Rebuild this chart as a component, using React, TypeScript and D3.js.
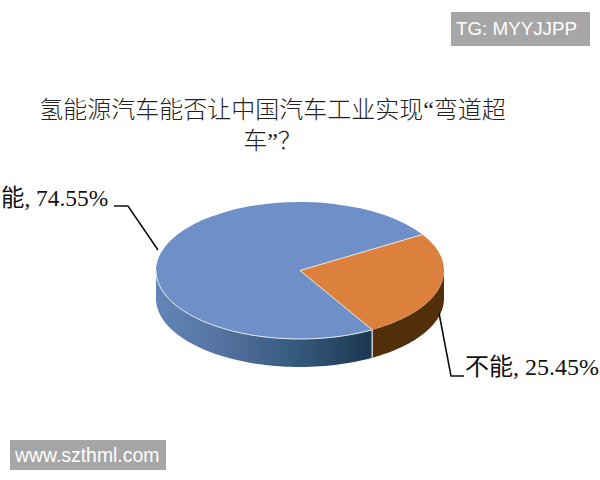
import React from "react";
import * as d3 from "d3";

const categories = ["不能", "能"];
const values = [25.45, 74.55];
const labels = ["不能, 25.45%", "能, 74.55%"];
const titleLines = ["氢能源汽车能否让中国汽车工业实现“弯道超", "车”？"];
const topColors = ["#dc803e", "#6e8fc8"];
const sideColors = ["#52300c", "url(#blueSide)"];
const watermarks = ["TG: MYYJJPP", "www.szthml.com"];

const cx = 300, cy = 270.5, rx = 144, ry = 68.5, depth = 28;
const startDeg = 58.3;
const serif = "'Liberation Serif','Noto Sans CJK SC',serif";
const sans = "'Liberation Sans',Arial,sans-serif";

export default function App() {
  const pie = d3.pie<number>().sort(null)
    .startAngle((startDeg * Math.PI) / 180)
    .endAngle((startDeg * Math.PI) / 180 + 2 * Math.PI);
  const arcs = pie(values);
  const arc = d3.arc<d3.PieArcDatum<number>>().innerRadius(0).outerRadius(rx);

  const px = (a: number) => cx + rx * Math.sin(a);
  const py = (a: number) => cy - ry * Math.cos(a);

  const sides = arcs.map((d, i) => {
    // front-facing portion of the rim only (between 90deg and 270deg)
    const a0 = Math.max(d.startAngle, Math.PI / 2);
    const a1 = Math.min(d.endAngle, (3 * Math.PI) / 2);
    const angles = d3.range(0, 61).map((k) => a0 + ((a1 - a0) * k) / 60);
    const area = d3.area<number>().x(px).y0(py).y1((a) => py(a) + depth);
    return { path: area(angles)!, fill: sideColors[i], a0, a1 };
  });

  const split = arcs[0].endAngle;
  const rimBlue = d3.line<number>().x(px).y(py)(
    d3.range(0, 61).map((k) => split + (((3 * Math.PI) / 2 - split) * k) / 60)
  );

  return (
    <svg width={600} height={480} style={{ position: "absolute", left: 0, top: 0, background: "#fff" }}>
      <defs>
        <linearGradient id="blueSide" gradientUnits="userSpaceOnUse" x1={156} x2={372} y1={0} y2={0}>
          <stop offset="0" stopColor="#6485b8" />
          <stop offset="0.35" stopColor="#506f9c" />
          <stop offset="0.65" stopColor="#35597c" />
          <stop offset="1" stopColor="#1b3850" />
        </linearGradient>
      </defs>

      {titleLines.map((t, i) => (
        <text key={t} x={272.5} y={118 + i * 31} textAnchor="middle" fontFamily={serif} fontSize={24} fontWeight={300} fill="#222">
          {t}
        </text>
      ))}

      {sides.map((s, i) => (
        <path key={categories[i]} d={s.path} fill={s.fill} />
      ))}
      <line x1={px(split)} y1={py(split)} x2={px(split)} y2={py(split) + depth} stroke="#e8eef4" strokeWidth={1.2} />

      <g transform={`translate(${cx},${cy}) scale(1,${ry / rx})`}>
        {arcs.map((d, i) => (
          <path key={categories[i]} d={arc(d)!} fill={topColors[i]} />
        ))}
        {[arcs[0].startAngle, arcs[0].endAngle].map((a) => (
          <line key={a} x1={0} y1={0} x2={rx * Math.sin(a)} y2={-rx * Math.cos(a)} stroke="#f0e6da" strokeWidth={1} vectorEffect="non-scaling-stroke" />
        ))}
      </g>
      <path d={rimBlue!} fill="none" stroke="#e4ebf4" strokeWidth={1} />

      <polyline points="114,206 128,206 158,250" fill="none" stroke="#111" strokeWidth={1.6} />
      <polyline points="439,313 451,376 464,376" fill="none" stroke="#111" strokeWidth={1.6} />
      <text x={1} y={206} fontFamily={serif} fontSize={23.4} fill="#111">{labels[1]}</text>
      <text x={465} y={375} fontFamily={serif} fontSize={24} fill="#111">{labels[0]}</text>

      <rect x={451} y={12} width={139} height={34} fill="#a6a6a6" />
      <text x={456} y={35} fontFamily={sans} fontSize={18.8} fill="#fff">{watermarks[0]}</text>
      <rect x={10} y={440} width={156} height={30} fill="#a6a6a6" />
      <text x={15} y={462} fontFamily={sans} fontSize={19.4} fill="#fff">{watermarks[1]}</text>
    </svg>
  );
}
